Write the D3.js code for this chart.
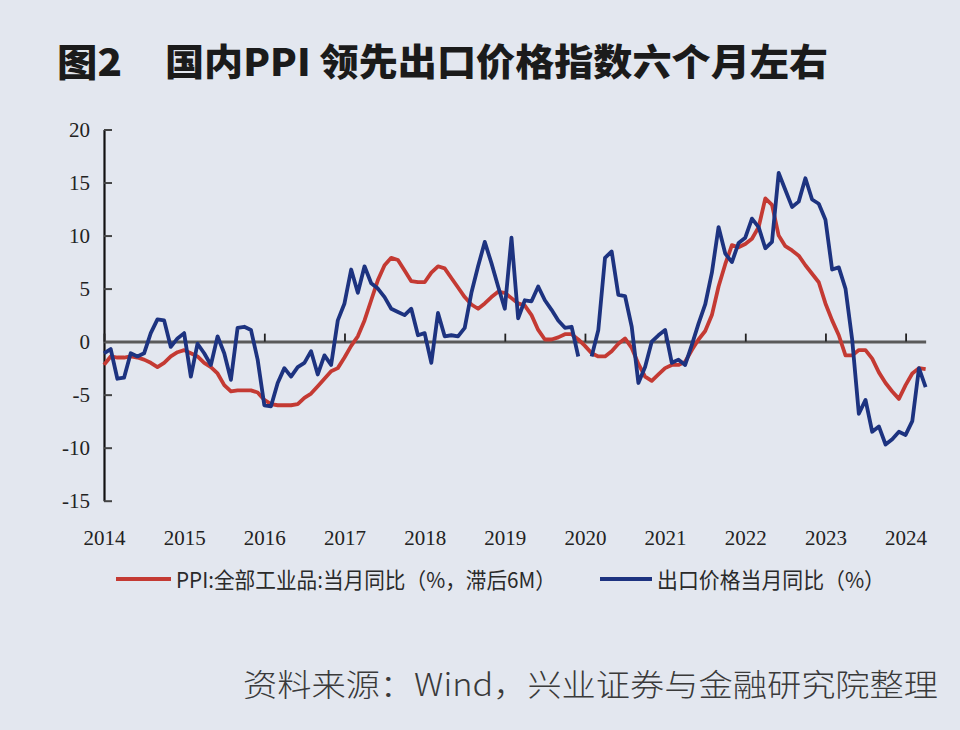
<!DOCTYPE html>
<html><head><meta charset="utf-8">
<script src="https://cdn.jsdelivr.net/npm/d3@7/dist/d3.min.js"></script>
<style>
html,body{margin:0;padding:0;background:#e3e7ef;}
svg{display:block;}
</style></head>
<body>
<svg id="chart" width="960" height="730"></svg>
<script>
// ---- data (monthly, Jan 2014 .. Apr 2024) ----
const startYear = 2014;
const yearLabels = ["2014","2015","2016","2017","2018","2019","2020","2021","2022","2023","2024"];
const yTicks = [20, 15, 10, 5, 0, -5, -10, -15];
const seriesNames = ["PPI:全部工业品:当月同比（%，滞后6M）", "出口价格当月同比（%）"];
const ppiLag6 = [
 -2.2,-1.4,-1.5,-1.5,-1.4,-1.5,-1.7,-2.0,-2.4,-2.0,-1.4,-1.0,
 -0.8,-1.1,-1.4,-2.0,-2.4,-3.0,-4.1,-4.7,-4.6,-4.6,-4.6,-4.8,
 -5.5,-5.9,-6.0,-6.0,-6.0,-5.9,-5.3,-4.9,-4.2,-3.5,-2.8,-2.5,
 -1.5,-0.4,0.5,2.0,3.9,5.8,7.2,7.9,7.7,6.7,5.7,5.6,
 5.6,6.5,7.1,6.9,6.0,5.1,4.2,3.5,3.1,3.6,4.2,4.7,
 4.6,4.1,3.6,3.4,2.5,1.1,0.2,0.2,0.4,0.7,0.7,0.2,
 -0.4,-1.1,-1.4,-1.4,-0.9,-0.2,0.3,-0.6,-2.1,-3.3,-3.7,-3.1,
 -2.5,-2.2,-2.2,-1.9,-0.8,0.2,1.0,2.5,5.2,7.3,9.1,8.9,
 9.2,9.7,10.8,13.5,12.9,10.0,9.0,8.6,8.1,7.2,6.4,5.6,
 3.6,2.0,0.6,-1.3,-1.3,-0.8,-0.8,-1.6,-2.9,-3.9,-4.7,-5.4,
 -4.1,-3.0,-2.5,-2.6
];
const exportPrice = [
 -1.1,-0.7,-3.5,-3.4,-1.1,-1.4,-1.1,0.8,2.1,2.0,-0.5,0.3,
 0.8,-3.3,-0.2,-1.1,-2.2,0.5,-1.1,-3.6,1.3,1.4,1.1,-1.7,
 -6.0,-6.1,-3.9,-2.5,-3.3,-2.4,-2.0,-0.9,-3.1,-1.3,-2.2,2.0,
 3.6,6.8,4.6,7.1,5.5,5.0,4.2,3.1,2.8,2.5,3.1,0.6,
 0.8,-2.0,2.7,0.5,0.6,0.5,1.3,4.6,7.1,9.4,7.4,5.2,
 3.1,9.8,2.2,3.9,3.8,5.2,3.9,3.0,2.0,1.3,1.4,-1.4,
 null,-1.4,1.1,7.9,8.5,4.4,4.3,1.4,-3.9,-2.4,0.0,0.6,
 1.1,-2.0,-1.7,-2.2,-0.3,1.7,3.5,6.5,10.8,8.3,7.5,9.3,
 9.8,11.6,10.8,8.8,9.4,15.9,14.3,12.7,13.2,15.4,13.4,13.0,
 11.5,6.8,7.0,5.0,0.2,-6.8,-5.5,-8.5,-8.0,-9.7,-9.2,-8.5,
 -8.8,-7.5,-2.5,-4.3
];
const colors = ["#c43a33", "#1d3380"];

// ---- layout ----
const svg = d3.select("#chart");
svg.append("rect").attr("width",960).attr("height",730).attr("fill","#e3e7ef");

const x = d3.scaleLinear().domain([0, ppiLag6.length - 1]).range([104, 104 + (ppiLag6.length - 1) * 6.68]);
const y = d3.scaleLinear().domain([-15, 20]).range([500.7, 129.5]);

// title
svg.append("text").attr("x",57).attr("y",76)
  .attr("font-family","'Noto Sans CJK SC','Noto Sans',sans-serif")
  .attr("font-weight",900).attr("font-size",38).attr("fill","#1b1b1b")
  .attr("textLength",65).attr("lengthAdjust","spacingAndGlyphs")
  .text("图2");
svg.append("text").attr("x",165).attr("y",76)
  .attr("font-family","'Noto Sans CJK SC','Noto Sans',sans-serif")
  .attr("font-weight",900).attr("font-size",37).attr("fill","#1b1b1b")
  .attr("textLength",663).attr("lengthAdjust","spacingAndGlyphs")
  .text("国内PPI 领先出口价格指数六个月左右");

// y axis
const yAxis = d3.axisLeft(y).tickValues(yTicks).tickSize(-8).tickPadding(14).tickSizeOuter(0)
  .tickFormat(d => d);
const gy = svg.append("g").attr("transform","translate(104,0)").call(yAxis);
gy.select(".domain").attr("stroke","#111").attr("stroke-width",2.2);
gy.selectAll(".tick line").attr("stroke","#444").attr("stroke-width",2);
gy.selectAll(".tick text").attr("font-family","'Liberation Serif','Times New Roman',serif")
  .attr("font-size",21).attr("fill","#222");

// x axis on zero line
const monthTicks = yearLabels.map((d,i) => i*12);
const xAxis = d3.axisBottom(x).tickValues(monthTicks).tickSize(-8).tickPadding(188).tickSizeOuter(0)
  .tickFormat((d,i) => yearLabels[i]);
const gx = svg.append("g").attr("transform",`translate(0,${y(0)})`).call(xAxis);
gx.select(".domain").attr("stroke","#5a5a5a").attr("stroke-width",3);
gx.selectAll(".tick line").attr("stroke","#222").attr("stroke-width",1.8);
gx.selectAll(".tick text").attr("font-family","'Liberation Serif','Times New Roman',serif")
  .attr("font-size",21).attr("fill","#222");

// lines
const line = d3.line().defined(d => d != null).x((d,i) => x(i)).y(d => y(d));
svg.append("path").datum(ppiLag6).attr("d", line)
  .attr("fill","none").attr("stroke",colors[0]).attr("stroke-width",3.8).attr("stroke-linejoin","round");
svg.append("path").datum(exportPrice).attr("d", line)
  .attr("fill","none").attr("stroke",colors[1]).attr("stroke-width",3.8).attr("stroke-linejoin","round");

// legend
const legend = [
  {x0:116, x1:171, tx:176, tl:380},
  {x0:600, x1:652, tx:657, tl:228}
];
legend.forEach((l,i) => {
  svg.append("line").attr("x1",l.x0).attr("x2",l.x1).attr("y1",579).attr("y2",579)
    .attr("stroke",colors[i]).attr("stroke-width",4);
  svg.append("text").attr("x",l.tx).attr("y",588)
    .attr("font-family","'Noto Sans CJK SC','Noto Sans',sans-serif")
    .attr("font-size",22).attr("fill","#2a2a2a")
    .attr("textLength",l.tl).attr("lengthAdjust","spacingAndGlyphs")
    .text(seriesNames[i]);
});

// source
svg.append("text").attr("x",243).attr("y",696)
  .attr("font-family","'Noto Sans CJK SC','Noto Sans',sans-serif")
  .attr("font-weight",300).attr("font-size",31).attr("fill","#3a3a3a")
  .attr("textLength",695).attr("lengthAdjust","spacingAndGlyphs")
  .text("资料来源：Wind，兴业证券与金融研究院整理");
</script>
</body></html>
